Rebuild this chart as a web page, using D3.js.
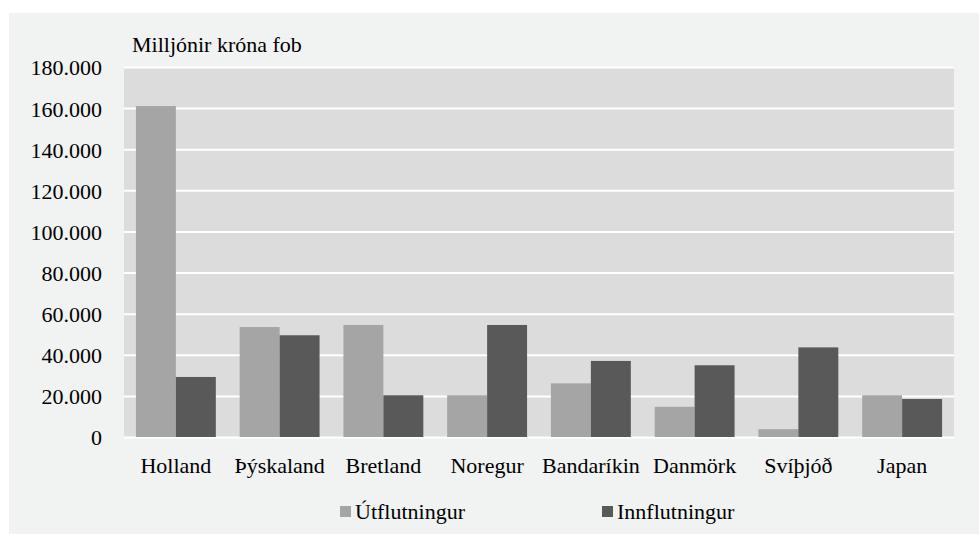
<!DOCTYPE html>
<html><head><meta charset="utf-8">
<script src="https://cdn.jsdelivr.net/npm/d3@7"></script>
</head><body>
<svg id="c" width="979" height="534"></svg>
<script>
const categories = ["Holland","Þýskaland","Bretland","Noregur","Bandaríkin","Danmörk","Svíþjóð","Japan"];
const seriesNames = ["Útflutningur","Innflutningur"];
const utflutningur = [161000, 53500, 54500, 20300, 26100, 14700, 3800, 20300];
const innflutningur = [29200, 49500, 20300, 54500, 37000, 34900, 43600, 18500];
const yTicks = [0,20000,40000,60000,80000,100000,120000,140000,160000,180000];
const yTitle = "Milljónir króna fob";

d3.select("body").style("margin","0").style("padding","0");
d3.select("#c").style("display","block");

const colors = ["#a5a5a5","#595959"];
const FF = '"Liberation Serif"';
const FS = 22;
const svg = d3.select("#c");
svg.append("rect").attr("x",9).attr("y",13).attr("width",970).attr("height",521).attr("fill","#f1f2f2");

const m = {l:124, r:954, t:67, b:437};
const x = d3.scaleBand().domain(categories).range([m.l,m.r]).paddingInner(0.23).paddingOuter(0.115);
const xs = d3.scaleBand().domain(seriesNames).range([0,x.bandwidth()]);
const y = d3.scaleLinear().domain([0,180000]).range([m.b,m.t]);

svg.append("rect").attr("x",m.l).attr("y",m.t).attr("width",m.r-m.l).attr("height",m.b-m.t).attr("fill","#dcdcdc");

const fmt = v => v===0 ? "0" : d3.format(",")(v).replace(/,/g,".");
const ya = d3.axisLeft(y).tickValues(yTicks).tickSize(-(m.r-m.l)).tickFormat(fmt).tickPadding(22);
const gy = svg.append("g").attr("transform",`translate(${m.l},0)`).call(ya);
gy.attr("font-family",null).attr("font-size",null);
gy.select(".domain").remove();
gy.selectAll(".tick line").attr("stroke","#ffffff").attr("stroke-width",2);
gy.selectAll(".tick text").style("font-family",FF).attr("font-size",FS).attr("fill","#000").attr("dy","0.36em");

const data = categories.map((c,i)=>({c, vals:[utflutningur[i], innflutningur[i]]}));
const g = svg.append("g");
data.forEach(d=>{
  d.vals.forEach((v,j)=>{
    g.append("rect")
      .attr("x", x(d.c)+xs(seriesNames[j]))
      .attr("y", y(v))
      .attr("width", xs.bandwidth())
      .attr("height", y(0)-y(v))
      .attr("fill", colors[j]);
  });
});

const xa = d3.axisBottom(x).tickSize(0).tickPadding(20);
const gx = svg.append("g").attr("transform",`translate(0,${m.b})`).call(xa);
gx.attr("font-family",null).attr("font-size",null);
gx.select(".domain").remove();
gx.selectAll(".tick text").style("font-family",FF).attr("font-size",FS).attr("fill","#000");

svg.append("text").attr("x",132).attr("y",52).style("font-family",FF).attr("font-size",FS).attr("fill","#000").text(yTitle);

const legX = [340, 602];
seriesNames.forEach((s,i)=>{
  svg.append("rect").attr("x",legX[i]).attr("y",506).attr("width",11).attr("height",11).attr("fill",colors[i]);
  svg.append("text").attr("x",legX[i]+15).attr("y",519).style("font-family",FF).attr("font-size",FS).attr("fill","#000").text(s);
});
</script>
</body></html>
